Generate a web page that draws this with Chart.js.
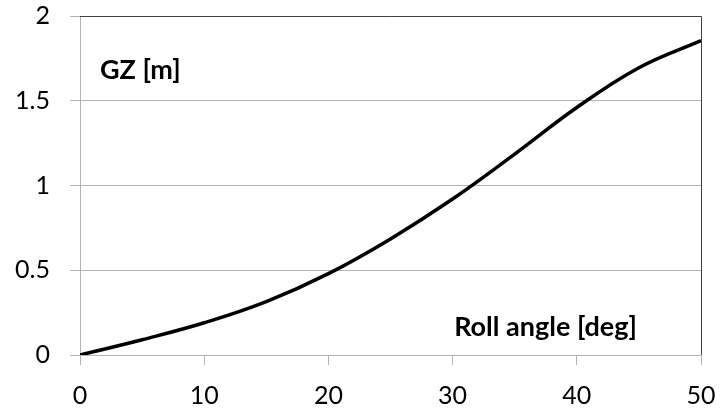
<!DOCTYPE html>
<html>
<head>
<meta charset="utf-8">
<script src="https://cdn.jsdelivr.net/npm/chart.js@4/dist/chart.umd.min.js"></script>
<style>
  html, body { margin: 0; padding: 0; background: #ffffff; }
  #wrap { width: 721px; height: 412px; }
</style>
</head>
<body>
<div id="wrap"><canvas id="c" width="721" height="412"></canvas></div>
<script>
// Data
const rollAngles = [0, 5, 10, 15, 20, 25, 30, 35, 40, 45, 50];
const gzValues   = [0, 0.09, 0.19, 0.315, 0.48, 0.685, 0.92, 1.185, 1.46, 1.695, 1.855];
const xTicks = [0, 10, 20, 30, 40, 50];
const yTicks = [0, 0.5, 1, 1.5, 2];
const yAxisLabel = 'GZ [m]';
const xAxisLabel = 'Roll angle [deg]';

const FONT = 'Lato, "Open Sans", sans-serif';
const GRID = '#b3b3b3';

const framePlugin = {
  id: 'frame',
  afterDatasetsDraw(chart) {
    const { ctx, chartArea: a } = chart;
    ctx.save();
    ctx.strokeStyle = '#404040';
    ctx.lineWidth = 1;
    ctx.beginPath();
    ctx.moveTo(a.left, a.top + 0.5);
    ctx.lineTo(a.right + 0.5, a.top + 0.5);
    ctx.lineTo(a.right + 0.5, a.bottom);
    ctx.stroke();
    ctx.fillStyle = '#000000';
    ctx.font = 'bold 27px ' + FONT;
    ctx.textBaseline = 'middle';
    ctx.textAlign = 'left';
    ctx.fillText(yAxisLabel, a.left + 20, a.top + 54);
    ctx.textAlign = 'right';
    ctx.fillText(xAxisLabel, a.right - 64, a.bottom - 28);
    ctx.restore();
  }
};

new Chart(document.getElementById('c'), {
  type: 'line',
  data: {
    datasets: [{
      data: rollAngles.map((x, i) => ({ x: x, y: gzValues[i] })),
      borderColor: '#000000',
      borderWidth: 3.5,
      pointRadius: 0,
      fill: false,
      tension: 0.4
    }]
  },
  options: {
    responsive: false,
    animation: false,
    layout: { padding: { top: 16, right: 20, left: 0, bottom: 0 } },
    plugins: { legend: { display: false }, tooltip: { enabled: false } },
    scales: {
      x: {
        type: 'linear',
        min: 0, max: 50,
        afterBuildTicks: (s) => { s.ticks = xTicks.map(v => ({ value: v })); },
        afterFit: (s) => { s.height = 57; s.paddingLeft = 0; s.paddingRight = 0; },
        border: { display: true, color: GRID, width: 1 },
        grid: { display: true, drawOnChartArea: false, drawTicks: true, tickLength: 10, color: GRID },
        ticks: { color: '#000000', padding: 16, font: { family: FONT, size: 25 }, maxRotation: 0 }
      },
      y: {
        type: 'linear',
        min: 0, max: 2,
        afterBuildTicks: (s) => { s.ticks = yTicks.map(v => ({ value: v })); },
        afterFit: (s) => { s.width = 80; s.paddingTop = 0; s.paddingBottom = 0; },
        border: { display: true, color: GRID, width: 1 },
        grid: { display: true, drawTicks: true, tickLength: 10, color: GRID },
        ticks: { color: '#000000', padding: 20, font: { family: FONT, size: 25 },
                 callback: (v) => String(v) }
      }
    }
  },
  plugins: [framePlugin]
});
</script>
</body>
</html>
